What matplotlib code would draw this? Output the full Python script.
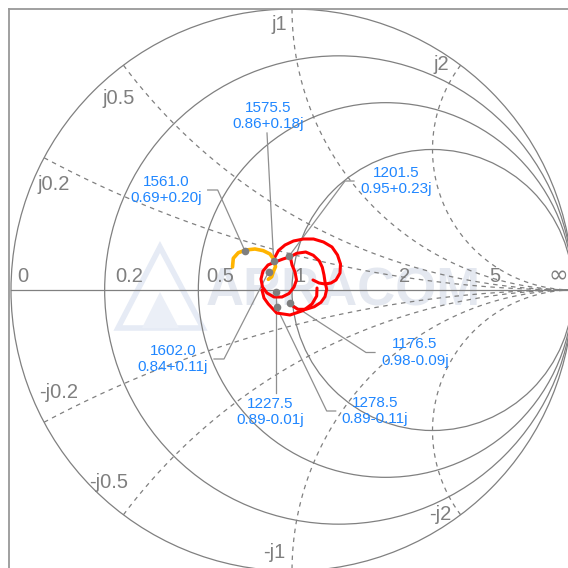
import numpy as np
import matplotlib
matplotlib.use('Agg')
import matplotlib.pyplot as plt
from matplotlib.patches import Circle, Polygon

# Smith chart grid (the first reactance arc sits a little above 0.2 in the picture)
r_circles = [0, 0.2, 0.5, 1]
x_arcs = [0.25, 0.5, 1, 2]
r_labels = ['0', '0.2', '0.5', '1', '2', '5']
r_values = [0, 0.2, 0.5, 1, 2, 5]
x_labels = ['j0.2', 'j0.5', 'j1', 'j2', '-j0.2', '-j0.5', '-j1', '-j2']

# marker readouts (frequency, normalised impedance)
freqs = ['1176.5', '1201.5', '1227.5', '1278.5', '1561.0', '1575.5', '1602.0']
z_re = [0.98, 0.95, 0.89, 0.89, 0.69, 0.86, 0.84]
z_im = [-0.09, 0.23, -0.01, -0.11, 0.20, 0.18, 0.11]

outer_re = [-0.0605, -0.0480, -0.0249, 0.0053, 0.0409, 0.0765, 0.1121, 0.1423,
            0.1619, 0.1726, 0.1708, 0.1566, 0.1388, 0.1174, 0.0961, 0.0747]
outer_im = [0.1174, 0.1406, 0.1601, 0.1744, 0.1815, 0.1815, 0.1708, 0.1530,
            0.1246, 0.0925, 0.0605, 0.0356, 0.0249, 0.0214, 0.0249, 0.0356]
inner_re = [-0.0060, 0.0167, 0.0488, 0.0758, 0.0972, 0.1078, 0.1139, 0.1174,
            0.1235, 0.1174, 0.1032, 0.0794, 0.0498, 0.0203, -0.0011, -0.0046]
inner_im = [0.1185, 0.1306, 0.1352, 0.1235, 0.1032, 0.0808, 0.0534, 0.0295,
            0.0025, -0.0238, -0.0438, -0.0594, -0.0687, -0.0687, -0.0544, -0.0438]
center_re = [-0.0060, -0.0320, -0.0605, -0.0854, -0.1032, -0.1103, -0.1050, -0.0890,
             -0.0641, -0.0356, -0.0107, 0.0071, 0.0160, 0.0107, 0.0000, -0.0060]
center_im = [0.1185, 0.1103, 0.0996, 0.0890, 0.0676, 0.0391, 0.0107, -0.0107,
             -0.0249, -0.0249, -0.0125, 0.0107, 0.0356, 0.0641, 0.0890, 0.1185]
lower_re = [-0.1068, -0.0996, -0.0843, -0.0544, -0.0071, 0.0402, 0.0712, 0.0879, 0.0890]
lower_im = [0.0000, -0.0285, -0.0498, -0.0819, -0.0890, -0.0730, -0.0498, -0.0214, 0.0071]
# highlighted band
band_re = [-0.2117, -0.2089, -0.1911, -0.1648, -0.1317, -0.1021, -0.0783, -0.0630,
           -0.0587, -0.0665, -0.0722, -0.0843]
band_im = [0.0819, 0.1128, 0.1327, 0.1423, 0.1459, 0.1399, 0.1281, 0.1068,
           0.0829, 0.0651, 0.0473, 0.0381]

# layout (pixel positions in the 568 px picture)
CX, CY, R = 292.0, 290.0, 281.0
def g(px, py):
    return (px - CX) / R, (CY - py) / R

grid_c = '#808080'
text_c = '#7f7f7f'
blue = '#1f86ff'
fam = ['Liberation Sans', 'DejaVu Sans']

fig = plt.figure(figsize=(5.68, 5.68), dpi=100)
ax = fig.add_axes([9 / 568, -4.5 / 568, 566 / 568, 564 / 568])
ax.set_xlim((9 - CX) / R, (575 - CX) / R)
ax.set_ylim((CY - 572.5) / R, (CY - 8.5) / R)
ax.set_xticks([])
ax.set_yticks([])
for s in ax.spines.values():
    s.set_color('#999999')
    s.set_linewidth(1.3)

# watermark
ax.text(*g(343, 292), 'ARRACOM', ha='center', va='center', fontsize=38,
        fontweight='bold', color='#e4e8f0', family=fam, zorder=0)
ax.add_patch(Polygon([g(118, 328), g(160, 247), g(203, 328)], closed=True,
                     fill=False, ec='#e6ebf5', lw=4, zorder=0))
ax.add_patch(Polygon([g(142, 328), g(160, 292), g(179, 328)], closed=True,
                     fc='#ebeff7', ec='none', zorder=0))

# constant resistance circles and real axis
for r in r_circles:
    ax.add_patch(Circle((r / (1 + r), 0), 1 / (1 + r), fill=False,
                        ec=grid_c, lw=0.9, zorder=1))
ax.plot([-1, 1], [0, 0], color=grid_c, lw=0.9, zorder=1)

# constant reactance arcs
t = np.concatenate([[0], np.geomspace(1e-3, 1e4, 800)])
for x in x_arcs:
    for sgn in (1, -1):
        z = t + 1j * sgn * x
        gam = (z - 1) / (z + 1)
        ax.plot(gam.real, gam.imag, color=grid_c, lw=0.9,
                ls=(0, (3.6, 3.6)), zorder=1)

# resistance labels
r_label_dx = [6, 11, 8, 2, 13, 10]
for lab, r, dx in zip(r_labels, r_values, r_label_dx):
    gx = (r - 1) / (r + 1)
    ax.text(gx + dx / R, 8 / R, lab, ha='left', va='baseline',
            fontsize=14.5, color=text_c, family=fam, zorder=2)
ax.text(1 - 5 / R, 8 / R, '\u221e', ha='right', va='baseline',
        fontsize=17, color=text_c, family='DejaVu Sans', zorder=2)

# reactance labels
x_label_pos = [(53.5, 185), (118.3, 98), (279, 25), (441.5, 65),
               (59, 393), (109, 482), (274.5, 553), (440, 515)]
for lab, pos in zip(x_labels, x_label_pos):
    ax.text(*g(*pos), lab, ha='center', va='center', fontsize=14.5,
            color=text_c, family=fam, zorder=2)

# trace
for xs, ys in [(outer_re, outer_im), (inner_re, inner_im),
               (center_re, center_im), (lower_re, lower_im)]:
    ax.plot(xs, ys, color='#ff0000', lw=2.2, solid_capstyle='round',
            solid_joinstyle='round', zorder=4)
ax.plot(band_re, band_im, color='#ffb400', lw=2.6, solid_capstyle='round',
        solid_joinstyle='round', zorder=5)

# markers with leader lines
label_side = ['right', 'right', 'below', 'right', 'left', 'above', 'left']
label_anchor = [(381, 352.5), (360, 181), (270, 397), (341.7, 411),
                (201.7, 190), (268, 131), (208, 359)]
for f, zr, zi, side, anc in zip(freqs, z_re, z_im, label_side, label_anchor):
    zz = complex(zr, zi)
    gam = (zz - 1) / (zz + 1)
    dx, dy = gam.real, gam.imag
    tx, ty = g(*anc)
    if side == 'right':
        lx = [dx, tx - 15 / R, tx - 6 / R]
        ly = [dy, ty, ty]
        ha, va = 'left', 'center'
    elif side == 'left':
        lx = [dx, tx + 16 / R, tx + 6 / R]
        ly = [dy, ty, ty]
        ha, va = 'right', 'center'
    elif side == 'below':
        lx = [dx, dx]
        ly = [dy, ty + 4 / R]
        ha, va = 'center', 'top'
    else:
        lx = [dx, tx - 1 / R]
        ly = [dy, ty - 2 / R]
        ha, va = 'center', 'bottom'
    ax.plot(lx, ly, color='#8f8f8f', lw=0.9, zorder=3)
    ax.plot(dx, dy, 'o', color='#7f7f7f', ms=5.5, mec='none', zorder=6)
    ax.text(tx, ty, f'{f}\n{zr:.2f}{zi:+.2f}j', ha=ha, va=va,
            multialignment='center', fontsize=11, color=blue,
            family=fam, zorder=7)

fig.savefig('out.png', dpi=100)
